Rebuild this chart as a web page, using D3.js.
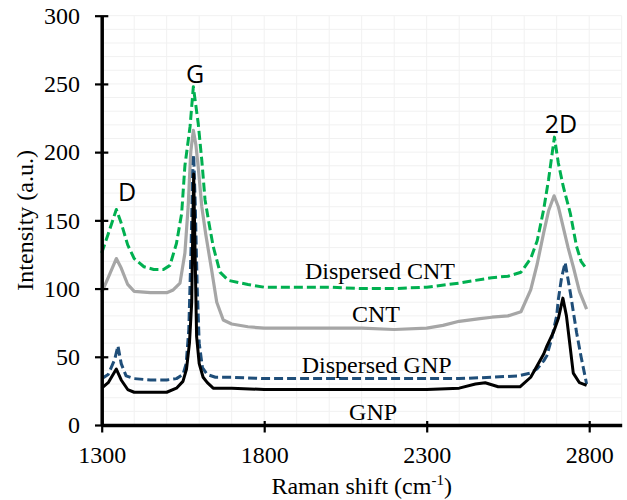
<!DOCTYPE html>
<html>
<head>
<meta charset="utf-8">
<script src="https://cdn.jsdelivr.net/npm/d3@7"></script>
<style>
  html, body { margin: 0; padding: 0; background: #fff; }
  svg { display: block; }
</style>
</head>
<body>
<svg id="chart" width="627" height="500"></svg>
<script>
// ---------- data ----------
const xTicks = [1300, 1800, 2300, 2800];
const yTicks = [0, 50, 100, 150, 200, 250, 300];

const dispCntX = [1300,1320,1345,1360,1380,1400,1430,1460,1490,1510,1530,1546,1556,1572,1582,1597,1608,1618,1630,1643,1664,1690,1750,1800,1900,2000,2100,2200,2300,2400,2450,2500,2550,2590,2620,2640,2660,2675,2693,2705,2720,2742,2761,2775,2790];
const dispCntY = [126,140,158,148,132,122,116,114,114,117,133,155,190,219,248,221,194,165,148,131,112,106,103,101,101,101,100,100,101,104,106,108,109,112,122,135,158,180,211,192,175,155,131,120,115];

const cntX = [1300,1320,1345,1360,1380,1400,1450,1500,1520,1541,1556,1566,1574,1582,1590,1597,1608,1620,1638,1654,1674,1700,1750,1800,1900,2000,2100,2200,2300,2350,2400,2464,2500,2550,2590,2620,2640,2660,2675,2692,2705,2720,2735,2751,2770,2792];
const cntY = [97,108,122,115,103,98,97,97,99,104,126,160,200,216,205,189,160,140,114,90,77,74,72,71,71,71,71,70,71,73,76,78,79,80,83,99,118,141,157,168,160,145,130,116,98,85];

const dispGnpX = [1300,1320,1340,1350,1360,1375,1400,1450,1500,1530,1550,1560,1568,1575,1580,1583,1588,1594,1600,1610,1625,1650,1700,1800,2000,2200,2400,2500,2580,2618,2639,2660,2670,2684,2700,2705,2715,2726,2742,2761,2775,2787,2792];
const dispGnpY = [34,37,48,58,45,36,34,33,33,34,37,45,70,130,185,198,160,100,60,42,37,35,35,34,34,34,34,35,36,38,41,47,51,63,80,92,108,119,97,68,50,36,30];

const gnpX = [1300,1320,1345,1360,1380,1400,1450,1500,1530,1550,1561,1570,1577,1580,1583,1587,1592,1600,1612,1625,1643,1700,1800,1900,2000,2100,2200,2300,2400,2450,2480,2520,2587,2620,2639,2660,2670,2690,2705,2719,2730,2740,2751,2770,2792];
const gnpY = [27,31,41,33,26,24,24,24,27,32,41,60,90,140,184,130,65,45,35,31,27,27,26,26,26,26,26,26,27,30,31,28,28,35,43,52,58,68,78,93,80,60,38,31,29];

const seriesNames = ["Dispersed CNT", "CNT", "Dispersed GNP", "GNP"];
const peakLabels = ["D", "G", "2D"];
const peakLabelX = [1378, 1587, 2713];
const peakLabelY = [164, 250.4, 213.8];
const seriesLabelX = [2156, 2144, 2146, 2135];
const seriesLabelY = [107, 75.7, 37.9, 3.7];

// ---------- layout ----------
const svg = d3.select("#chart");
const x = d3.scaleLinear().domain([1300, 2900]).range([101.7, 621.7]);
const y = d3.scaleLinear().domain([0, 300]).range([425, 15.7]);

// gridlines
const grid = svg.append("g");
grid.selectAll("line.v").data(d3.range(1400, 2901, 100)).join("line")
  .attr("x1", d => x(d)).attr("x2", d => x(d))
  .attr("y1", y(0)).attr("y2", y(300))
  .attr("stroke", "#f1f1f1").attr("stroke-width", 1);
grid.selectAll("line.h").data(d3.range(10, 301, 10)).join("line")
  .attr("x1", x(1300)).attr("x2", x(2900))
  .attr("y1", d => y(d)).attr("y2", d => y(d))
  .attr("stroke", "#f1f1f1").attr("stroke-width", 1);

// series
const series = [
  {xs: dispCntX, ys: dispCntY, color: "#00B050", dash: "9,4", w: 3},
  {xs: cntX, ys: cntY, color: "#A6A6A6", dash: null, w: 3.2},
  {xs: dispGnpX, ys: dispGnpY, color: "#1F4E79", dash: "9,4", w: 3},
  {xs: gnpX, ys: gnpY, color: "#000000", dash: null, w: 3}
];
const line = d3.line().x(d => x(d[0])).y(d => y(d[1]));
series.forEach(s => {
  svg.append("path")
    .datum(s.xs.map((v, i) => [v, s.ys[i]]))
    .attr("d", line)
    .attr("fill", "none")
    .attr("stroke", s.color)
    .attr("stroke-width", s.w)
    .attr("stroke-linejoin", "round")
    .attr("stroke-dasharray", s.dash);
});

// axes
const serif = "'Liberation Serif', 'Times New Roman', serif";
const xAxisG = svg.append("g").attr("transform", `translate(0,${y(0)})`);
xAxisG.call(d3.axisBottom(x).tickValues(d3.range(1300, 2901, 100)).tickSize(-5).tickFormat(""));
xAxisG.call(d3.axisBottom(x).tickValues(xTicks).tickSizeInner(7.5).tickSizeOuter(0).tickPadding(13).tickFormat(d3.format("d")));
xAxisG.selectAll(".tick line").attr("stroke", "#000").attr("stroke-width", 2.2);
xAxisG.selectAll(".tick").filter(d => xTicks.includes(d)).select("line").attr("y1", -4);
xAxisG.selectAll(".domain").attr("stroke", "#000").attr("stroke-width", 3.5);
xAxisG.selectAll("text").attr("font-family", serif).attr("font-size", 24).attr("fill", "#000");

const yAxisG = svg.append("g").attr("transform", `translate(${x(1300)},0)`);
yAxisG.call(d3.axisLeft(y).tickValues(d3.range(0, 301, 10)).tickSize(-6.6).tickFormat(""));
yAxisG.call(d3.axisLeft(y).tickValues(yTicks).tickSizeInner(6.7).tickSizeOuter(0).tickPadding(15).tickFormat(d3.format("d")));
yAxisG.selectAll(".tick line").attr("stroke", "#000").attr("stroke-width", 2.2);
yAxisG.selectAll(".tick").filter(d => yTicks.includes(d)).select("line").attr("x1", 6.6);
yAxisG.selectAll(".domain").attr("stroke", "#000").attr("stroke-width", 3.5);
yAxisG.selectAll("text").attr("font-family", serif).attr("font-size", 24).attr("fill", "#000");

// axis titles
const xt = svg.append("text")
  .attr("x", (x(1300) + x(2900)) / 2).attr("y", 494)
  .attr("text-anchor", "middle")
  .attr("font-family", serif).attr("font-size", 24).attr("fill", "#000");
xt.append("tspan").text("Raman shift (cm");
xt.append("tspan").text("-1").attr("font-size", 15).attr("dy", -9);
xt.append("tspan").text(")").attr("dy", 9);

svg.append("text")
  .attr("transform", `translate(33,${(y(0) + y(300)) / 2}) rotate(-90)`)
  .attr("text-anchor", "middle")
  .attr("font-family", serif).attr("font-size", 24).attr("fill", "#000")
  .text("Intensity (a.u.)");

// peak labels
svg.selectAll("text.peak").data(peakLabels).join("text")
  .attr("class", "peak")
  .attr("x", (d, i) => x(peakLabelX[i]))
  .attr("y", (d, i) => y(peakLabelY[i]))
  .attr("text-anchor", "middle")
  .attr("font-family", "'Open Sans', 'Noto Sans', sans-serif")
  .attr("font-size", 25).attr("fill", "#000")
  .text(d => d);

// series labels
svg.selectAll("text.series").data(seriesNames).join("text")
  .attr("class", "series")
  .attr("x", (d, i) => x(seriesLabelX[i]))
  .attr("y", (d, i) => y(seriesLabelY[i]))
  .attr("text-anchor", "middle")
  .attr("font-family", serif).attr("font-size", 24).attr("fill", "#000")
  .text(d => d);
</script>
</body>
</html>
